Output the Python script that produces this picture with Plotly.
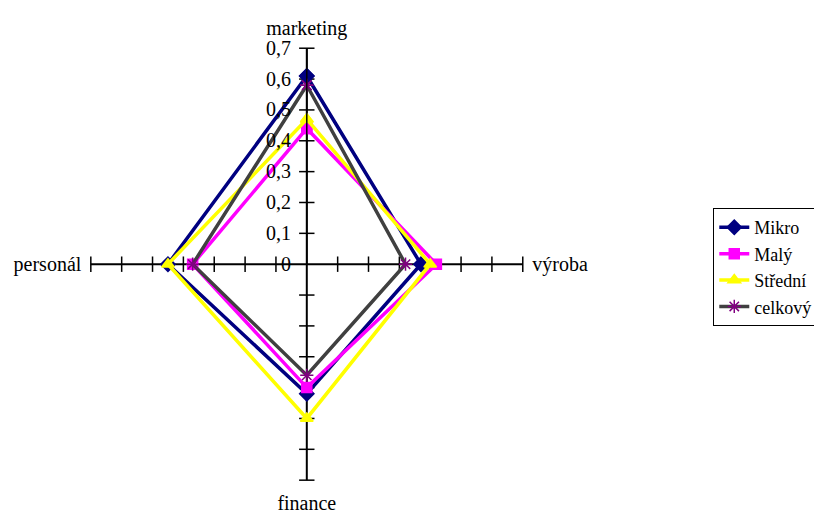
import plotly.graph_objects as go

# osy paprskoveho grafu
kategorie = ["marketing", "výroba", "finance", "personál"]

mikro = [0.61, 0.37, 0.42, 0.45]
maly = [0.44, 0.42, 0.40, 0.37]
stredni = [0.47, 0.40, 0.50, 0.45]
celkovy = [0.58, 0.32, 0.36, 0.37]

hodnoty_os = [0.1, 0.2, 0.3, 0.4, 0.5, 0.6, 0.7]

font = dict(family="Liberation Serif", size=20, color="black")

fig = go.Figure()

# znacky na paprscich (jako v Excelu)
for kat in kategorie:
    symbol = "line-ew" if kat in ("marketing", "finance") else "line-ns"
    fig.add_trace(go.Scatterpolar(
        r=hodnoty_os, theta=[kat] * len(hodnoty_os), mode="markers",
        marker=dict(symbol=symbol, size=11, line=dict(color="black", width=1.5)),
        showlegend=False, hoverinfo="skip"))

serie = [
    ("Mikro", mikro, "#000080", "#000080", "diamond", 11),
    ("Malý", maly, "#FF00FF", "#FF00FF", "square", 10),
    ("Střední", stredni, "#FFFF00", "#FFFF00", "triangle-up", 11),
    ("celkový", celkovy, "#404040", "#800080", "asterisk-open", 11),
]

for nazev, hodnoty, barva, barva_znacky, symbol, velikost in serie:
    fig.add_trace(go.Scatterpolar(
        r=hodnoty + hodnoty[:1], theta=kategorie + kategorie[:1],
        mode="lines+markers", name=nazev,
        line=dict(color=barva, width=3.5),
        marker=dict(symbol=symbol, size=velikost, color=barva_znacky,
                    line=dict(color=barva_znacky, width=1.5))))

fig.update_layout(
    width=822, height=513,
    margin=dict(l=0, r=0, t=0, b=0),
    paper_bgcolor="white", plot_bgcolor="white",
    font=font,
    separators=", ",
    polar=dict(
        domain=dict(x=[0.1005, 0.6265], y=[0.0796, 0.9216]),
        bgcolor="white",
        radialaxis=dict(range=[0, 0.7], angle=90, side="counterclockwise",
                        tickvals=[0, 0.1, 0.2, 0.3, 0.4, 0.5, 0.6, 0.7],
                        showgrid=False, showline=True,
                        linecolor="black", linewidth=1.5,
                        ticks="outside", ticklen=8, tickcolor="rgba(0,0,0,0)",
                        tickfont=font, tickangle=90),
        angularaxis=dict(rotation=90, direction="clockwise", showline=False,
                         showgrid=True, gridcolor="black", gridwidth=1.5,
                         ticks="outside", ticklen=5, tickcolor="rgba(0,0,0,0)",
                         tickfont=font),
    ),
    legend=dict(x=0.858, y=0.61, xanchor="left", yanchor="top",
                bordercolor="black", borderwidth=1, bgcolor="white",
                font=dict(family="Liberation Serif", size=18, color="black"),
                tracegroupgap=0, itemwidth=30),
)

fig.write_html("out.html")
